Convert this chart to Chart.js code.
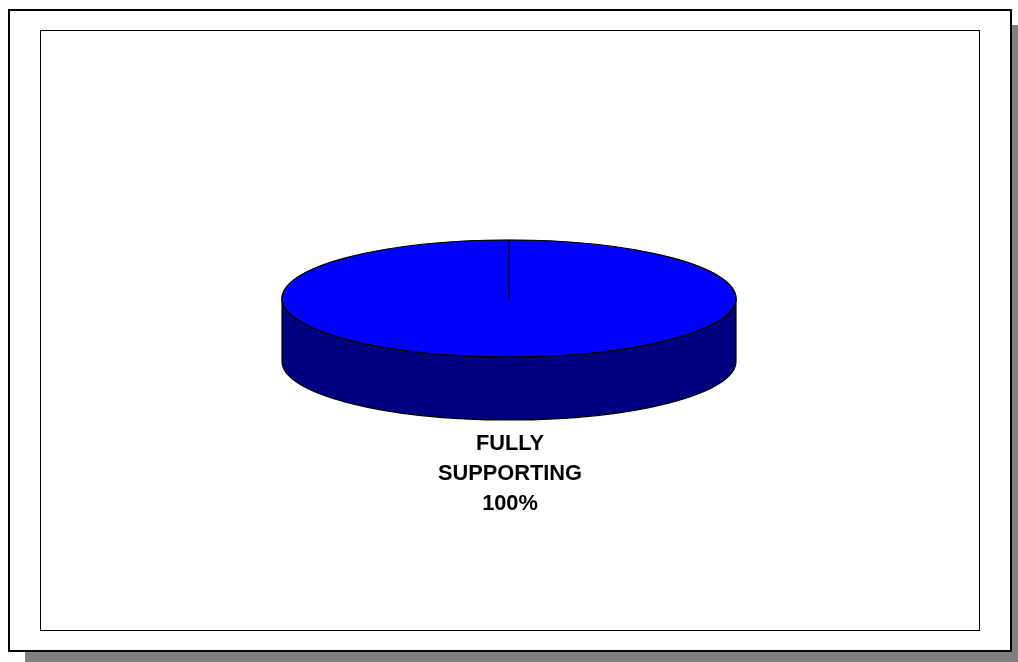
<!DOCTYPE html>
<html><head><meta charset="utf-8">
<style>html,body{margin:0;padding:0;background:#fff}
#wrap{position:absolute;left:0;top:0;width:1018px;height:662px}
canvas{display:block}</style>
<script src="https://cdn.jsdelivr.net/npm/chart.js@4"></script>
</head><body><div id="wrap"><canvas id="c" width="1018" height="662"></canvas></div>
<script>
const categories = ['FULLY SUPPORTING'];
const labelLines = ['FULLY', 'SUPPORTING', '100%'];
const seriesValues = [100];

const CY = 298.5, RX = 227, RY = 58.5, DEPTH = 63;
const squash = RY / RX;

const framePlugin = {
  id: 'frame',
  beforeDraw(chart) {
    const c = chart.ctx;
    const CX = chart.getDatasetMeta(0).data[0].x;
    c.save();
    c.fillStyle = '#808080';
    c.fillRect(25, 25, 993, 637);
    c.fillStyle = '#fff';
    c.fillRect(9, 10, 1002, 641);
    c.strokeStyle = '#000'; c.lineWidth = 2;
    c.strokeRect(9, 10, 1002, 641);
    c.lineWidth = 1;
    c.strokeRect(40.5, 30.5, 939, 600);
    c.beginPath();
    c.ellipse(CX, CY + DEPTH, RX, RY, 0, 0, Math.PI);
    c.lineTo(CX - RX, CY);
    c.ellipse(CX, CY, RX, RY, 0, Math.PI, 0, true);
    c.closePath();
    c.fillStyle = '#000080'; c.fill();
    c.strokeStyle = '#000'; c.lineWidth = 1.2; c.stroke();
    c.restore();
  },
  beforeDatasetsDraw(chart) {
    const c = chart.ctx;
    const el = chart.getDatasetMeta(0).data[0];
    c.save();
    c.translate(el.x, el.y);
    c.scale(1, squash);
    c.translate(-el.x, -el.y);
  },
  afterDatasetsDraw(chart) {
    const c = chart.ctx;
    c.restore();
    const CX = chart.getDatasetMeta(0).data[0].x;
    c.save();
    c.beginPath();
    c.ellipse(CX, CY, RX, RY, 0, 0, Math.PI * 2);
    c.strokeStyle = '#000'; c.lineWidth = 1.2; c.stroke();
    c.fillStyle = '#000';
    c.font = 'bold 21.8px "Liberation Sans", Arial, sans-serif';
    c.textAlign = 'center';
    c.textBaseline = 'middle';
    labelLines.forEach((t, i) => c.fillText(t, 510, 444 + i * 29.8));
    c.restore();
  }
};

new Chart(document.getElementById('c'), {
  type: 'pie',
  data: {
    labels: categories,
    datasets: [{
      data: seriesValues,
      backgroundColor: '#0000ff',
      borderColor: '#000',
      borderWidth: 1.2,
      radius: RX
    }]
  },
  options: {
    responsive: false,
    animation: false,
    layout: { padding: { bottom: 65 } },
    plugins: { legend: { display: false }, tooltip: { enabled: false }, title: { display: false } }
  },
  plugins: [framePlugin]
});
</script></body></html>
